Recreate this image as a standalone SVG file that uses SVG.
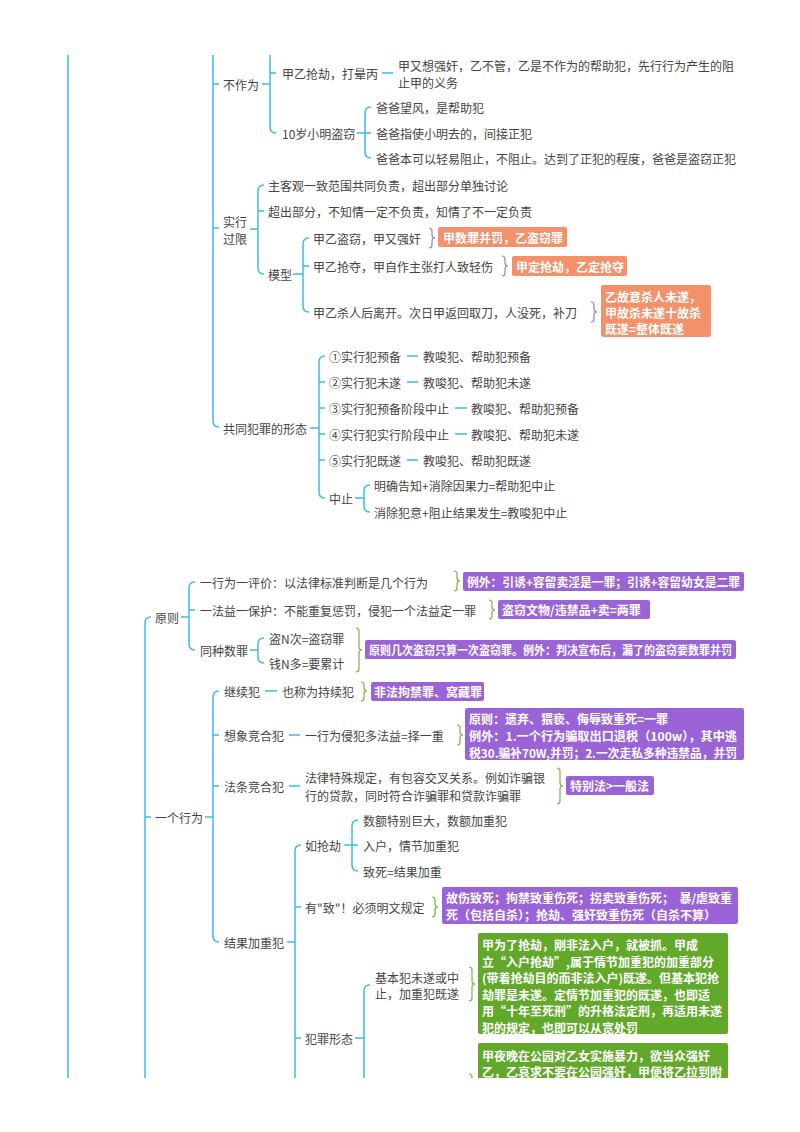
<svg xmlns="http://www.w3.org/2000/svg" width="800" height="1132" viewBox="0 0 800 1132">
<style>
.t{font-family:"Noto Sans CJK SC","Noto Sans",sans-serif;font-size:12px;fill:#444;dominant-baseline:central}
.w{font-family:"Noto Sans CJK SC","Noto Sans",sans-serif;font-size:12px;font-weight:bold;fill:#fff;dominant-baseline:central}
.ln{fill:none;stroke:#3DB9EF;stroke-width:1.5}
.bp{fill:none;stroke:#9B7BD0;stroke-width:1.2}
.bg{fill:none;stroke:#7CB342;stroke-width:1.2}
.or{fill:#F4906A}
.pu{fill:#9A64D8}
.gr{fill:#62A82B}
</style>
<defs>
<clipPath id="page"><rect x="0" y="55" width="800" height="1023"/></clipPath>
</defs>
<rect width="800" height="1132" fill="#fff"/>
<g clip-path="url(#page)">
<g id="connectors">
<path class="ln" d="M68 55 L68 1078"/>
<path class="ln" d="M213 40 L213 421 Q213 427 219 427 M213 84 L219 84 M213 228 L219 228"/>
<path class="ln" d="M262 84 L270 84 M270 40 L270 127 Q270 133 276 133 M270 73 L276 73"/>
<path class="ln" d="M382 73 L393 73"/>
<path class="ln" d="M357 133 L365 133 M371 107 Q365 107 365 113 L365 152 Q365 158 371 158 M365 133 L371 133"/>
<path class="ln" d="M250 229 L258 229 M264 185 Q258 185 258 191 L258 268 Q258 274 264 274 M258 211 L264 211"/>
<path class="ln" d="M293 274 L303 274 M309 238 Q303 238 303 244 L303 306 Q303 312 309 312 M303 266 L309 266"/>
<path class="ln" d="M310 428 L319 428 M325 356 Q319 356 319 362 L319 492 Q319 498 325 498 M319 382 L325 382 M319 408 L325 408 M319 434 L325 434 M319 460 L325 460"/>
<path class="ln" d="M407 356 L418 356 M407 382 L418 382 M455 408 L467 408 M455 434 L467 434 M407 460 L418 460"/>
<path class="ln" d="M355 498 L364 498 M370 485 Q364 485 364 491 L364 506 Q364 512 370 512"/>
<path class="ln" d="M151 617 Q145 617 145 623 L145 1090 M145 817 L151 817"/>
<path class="ln" d="M181 617 L189 617 M195 582 Q189 582 189 588 L189 644 Q189 650 195 650 M189 610 L195 610"/>
<path class="ln" d="M250 650 L258 650 M264 638 Q258 638 258 644 L258 657 Q258 663 264 663"/>
<path class="ln" d="M205 817 L213 817 M219 691 Q213 691 213 697 L213 936 Q213 942 219 942 M213 735 L219 735 M213 786 L219 786"/>
<path class="ln" d="M265 691 L277 691 M289 735 L300 735 M289 786 L300 786"/>
<path class="ln" d="M287 942 L295 942 M301 845 Q295 845 295 851 L295 1090 M295 907 L301 907 M295 1038 L301 1038"/>
<path class="ln" d="M344 845 L352 845 M358 820 Q352 820 352 826 L352 865 Q352 871 358 871 M352 845 L358 845"/>
<path class="ln" d="M355 1038 L364 1038 M370 985 Q364 985 364 991 L364 1090"/>
<path class="bp" d="M429 228 Q432 228 432 231 L432 235 Q432 238 435 238 Q432 238 432 241 L432 245 Q432 248 429 248"/>
<path class="bp" d="M502 256 Q505 256 505 259 L505 263 Q505 266 508 266 Q505 266 505 269 L505 273 Q505 276 502 276"/>
<path class="bp" d="M591 302 Q594 302 594 305 L594 309 Q594 312 597 312 Q594 312 594 315 L594 319 Q594 322 591 322"/>
<path class="bg" d="M454 571 Q457 571 457 574 L457 578 Q457 581 460 581 Q457 581 457 584 L457 588 Q457 591 454 591"/>
<path class="bg" d="M489 600 Q492 600 492 603 L492 607 Q492 610 495 610 Q492 610 492 613 L492 616 Q492 619 489 619"/>
<path class="bg" d="M356 628 Q359 628 359 631 L359 647 Q359 650 362 650 Q359 650 359 653 L359 669 Q359 672 356 672"/>
<path class="bg" d="M361 682 Q364 682 364 685 L364 688 Q364 691 367 691 Q364 691 364 694 L364 698 Q364 701 361 701"/>
<path class="bg" d="M457 725 Q460 725 460 728 L460 732 Q460 735 463 735 Q460 735 460 738 L460 742 Q460 745 457 745"/>
<path class="bg" d="M557 768 Q560 768 560 771 L560 783 Q560 786 563 786 Q560 786 560 789 L560 801 Q560 804 557 804"/>
<path class="bg" d="M432 897 Q435 897 435 900 L435 904 Q435 907 438 907 Q435 907 435 910 L435 914 Q435 917 432 917"/>
<path class="bg" d="M469 967 Q472 967 472 970 L472 981 Q472 984 475 984 Q472 984 472 987 L472 998 Q472 1001 469 1001"/>
<path class="bg" d="M469 1074 Q472 1074 472 1077 L472 1090"/>
</g>
<g id="n-buzuowei"><text class="t" x="223" y="84">不作为</text></g>
<g id="n-qiangjie"><text class="t" x="282" y="73">甲乙抢劫，打晕丙</text></g>
<g id="n-qiangjie-d"><text class="t" x="398" y="65">甲又想强奸，乙不管，乙是不作为的帮助犯，先行行为产生的阻</text><text class="t" x="398" y="82">止甲的义务</text></g>
<g id="n-xiaoming"><text class="t" x="282" y="133">10岁小明盗窃</text></g>
<g id="n-xm1"><text class="t" x="376" y="107">爸爸望风，是帮助犯</text></g>
<g id="n-xm2"><text class="t" x="376" y="133">爸爸指使小明去的，间接正犯</text></g>
<g id="n-xm3"><text class="t" x="376" y="158">爸爸本可以轻易阻止，不阻止。达到了正犯的程度，爸爸是盗窃正犯</text></g>
<g id="n-shixing"><text class="t" x="223" y="221">实行</text><text class="t" x="223" y="238">过限</text></g>
<g id="n-sx1"><text class="t" x="268" y="185">主客观一致范围共同负责，超出部分单独讨论</text></g>
<g id="n-sx2"><text class="t" x="268" y="211">超出部分，不知情一定不负责，知情了不一定负责</text></g>
<g id="n-moxing"><text class="t" x="268" y="274">模型</text></g>
<g id="n-mx1"><text class="t" x="313" y="238">甲乙盗窃，甲又强奸</text></g>
<g id="n-mx2"><text class="t" x="313" y="266">甲乙抢夺，甲自作主张打人致轻伤</text></g>
<g id="n-mx3"><text class="t" x="313" y="312">甲乙杀人后离开。次日甲返回取刀，人没死，补刀</text></g>
<g id="c-o1"><rect class="or" x="438" y="227" width="129" height="20" rx="2"/><text class="w" x="443" y="237.5">甲数罪并罚，乙盗窃罪</text></g>
<g id="c-o2"><rect class="or" x="512" y="256" width="115" height="20" rx="2"/><text class="w" x="516" y="266.5">甲定抢劫，乙定抢夺</text></g>
<g id="c-o3"><rect class="or" x="601" y="285" width="110" height="52" rx="2"/><text class="w" x="605" y="296">乙故意杀人未遂，</text><text class="w" x="605" y="312">甲故杀未遂十故杀</text><text class="w" x="605" y="328">既遂=整体既遂</text></g>
<g id="n-xingtai"><text class="t" x="223" y="428">共同犯罪的形态</text></g>
<g id="n-xt1"><text class="t" x="329" y="356">①实行犯预备</text><text class="t" x="423" y="356">教唆犯、帮助犯预备</text></g>
<g id="n-xt2"><text class="t" x="329" y="382">②实行犯未遂</text><text class="t" x="423" y="382">教唆犯、帮助犯未遂</text></g>
<g id="n-xt3"><text class="t" x="329" y="408">③实行犯预备阶段中止</text><text class="t" x="471" y="408">教唆犯、帮助犯预备</text></g>
<g id="n-xt4"><text class="t" x="329" y="434">④实行犯实行阶段中止</text><text class="t" x="471" y="434">教唆犯、帮助犯未遂</text></g>
<g id="n-xt5"><text class="t" x="329" y="460">⑤实行犯既遂</text><text class="t" x="423" y="460">教唆犯、帮助犯既遂</text></g>
<g id="n-zhongzhi"><text class="t" x="329" y="498">中止</text></g>
<g id="n-zz1"><text class="t" x="374" y="485">明确告知+消除因果力=帮助犯中止</text></g>
<g id="n-zz2"><text class="t" x="374" y="512">消除犯意+阻止结果发生=教唆犯中止</text></g>
<g id="n-yuanze"><text class="t" x="155" y="617">原则</text></g>
<g id="n-yz1"><text class="t" x="200" y="582">一行为一评价：以法律标准判断是几个行为</text></g>
<g id="n-yz2"><text class="t" x="200" y="610">一法益一保护：不能重复惩罚，侵犯一个法益定一罪</text></g>
<g id="n-yz3"><text class="t" x="200" y="650">同种数罪</text></g>
<g id="n-yz3a"><text class="t" x="269" y="638">盗N次=盗窃罪</text></g>
<g id="n-yz3b"><text class="t" x="269" y="663">钱N多=要累计</text></g>
<g id="c-p1"><rect class="pu" x="463" y="572" width="281" height="19" rx="2"/><text class="w" x="467" y="581.5" textLength="273" lengthAdjust="spacingAndGlyphs">例外：引诱+容留卖淫是一罪；引诱+容留幼女是二罪</text></g>
<g id="c-p2"><rect class="pu" x="498" y="600" width="152" height="19" rx="2"/><text class="w" x="502" y="609.5">盗窃文物/违禁品+卖=两罪</text></g>
<g id="c-p3"><rect class="pu" x="365" y="640" width="371" height="19" rx="2"/><text class="w" x="369" y="649.5" textLength="363" lengthAdjust="spacingAndGlyphs">原则几次盗窃只算一次盗窃罪。例外：判决宣布后，漏了的盗窃要数罪并罚</text></g>
<g id="n-yigexingwei"><text class="t" x="155" y="817">一个行为</text></g>
<g id="n-jixu"><text class="t" x="224" y="691">继续犯</text><text class="t" x="282" y="691">也称为持续犯</text></g>
<g id="c-p4"><rect class="pu" x="371" y="682" width="113" height="19" rx="2"/><text class="w" x="374" y="691.5">非法拘禁罪、窝藏罪</text></g>
<g id="n-xiangxiang"><text class="t" x="224" y="735">想象竞合犯</text><text class="t" x="305" y="735">一行为侵犯多法益=择一重</text></g>
<g id="c-p5"><rect class="pu" x="465" y="708" width="279" height="52" rx="2"/><text class="w" x="469" y="718">原则：遗弃、猥亵、侮辱致重死=一罪</text><text class="w" x="469" y="735" textLength="268" lengthAdjust="spacingAndGlyphs">例外：1.一个行为骗取出口退税（100w），其中逃</text><text class="w" x="469" y="752" textLength="268" lengthAdjust="spacingAndGlyphs">税30.骗补70W,并罚；2.一次走私多种违禁品，并罚</text></g>
<g id="n-fatiao"><text class="t" x="224" y="786">法条竞合犯</text><text class="t" x="305" y="777">法律特殊规定，有包容交叉关系。例如诈骗银</text><text class="t" x="305" y="795">行的贷款，同时符合诈骗罪和贷款诈骗罪</text></g>
<g id="c-p6"><rect class="pu" x="566" y="776" width="88" height="19" rx="2"/><text class="w" x="570" y="785.5">特别法&gt;一般法</text></g>
<g id="n-jieguo"><text class="t" x="224" y="942">结果加重犯</text></g>
<g id="n-ruqiangjie"><text class="t" x="305" y="845">如抢劫</text></g>
<g id="n-qj1"><text class="t" x="363" y="820">数额特别巨大，数额加重犯</text></g>
<g id="n-qj2"><text class="t" x="363" y="845">入户，情节加重犯</text></g>
<g id="n-qj3"><text class="t" x="363" y="871">致死=结果加重</text></g>
<g id="n-zhi"><text class="t" x="305" y="907">有"致"！必须明文规定</text></g>
<g id="c-p7"><rect class="pu" x="442" y="887" width="296" height="37" rx="2"/><text class="w" x="446" y="897" style="white-space:pre">故伤致死；拘禁致重伤死；拐卖致重伤死；  暴/虐致重</text><text class="w" x="446" y="914">死（包括自杀）；抢劫、强奸致重伤死（自杀不算）</text></g>
<g id="n-fanzui"><text class="t" x="305" y="1038">犯罪形态</text></g>
<g id="n-jibenfan"><text class="t" x="375" y="977">基本犯未遂或中</text><text class="t" x="375" y="993">止，加重犯既遂</text></g>
<g id="c-g1"><rect class="gr" x="478" y="933" width="250" height="101" rx="2"/>
<text class="w" x="482" y="944">甲为了抢劫，刚非法入户，就被抓。甲成</text>
<text class="w" x="482" y="961">立“入户抢劫”,属于情节加重犯的加重部分</text>
<text class="w" x="482" y="977">(带着抢劫目的而非法入户)既遂。但基本犯抢</text>
<text class="w" x="482" y="994">劫罪是未遂。定情节加重犯的既遂，也即适</text>
<text class="w" x="482" y="1010">用“十年至死刑”的升格法定刑，再适用未遂</text>
<text class="w" x="482" y="1027">犯的规定，也即可以从宽处罚</text></g>
<g id="c-g2"><rect class="gr" x="478" y="1043" width="250" height="60" rx="2"/>
<text class="w" x="482" y="1055">甲夜晚在公园对乙女实施暴力，欲当众强奸</text>
<text class="w" x="482" y="1071" textLength="240" lengthAdjust="spacingAndGlyphs">乙，乙哀求不要在公园强奸，甲便将乙拉到附</text></g>
</g>
</svg>
